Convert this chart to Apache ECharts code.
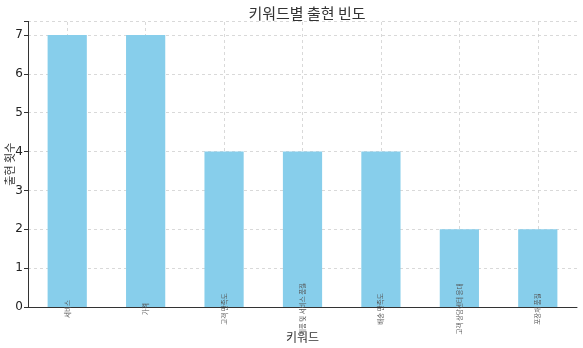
<!DOCTYPE html>
<html><head><meta charset="utf-8">
<script src="https://cdn.jsdelivr.net/npm/echarts@6/dist/echarts.min.js"></script>
<style>html,body{margin:0;padding:0;background:#fff}#c{width:583px;height:348px}</style>
</head><body><div id="c"></div>
<script>
const titleText = "키워드별 출현 빈도";
const yAxisName = "출현 횟수";
const xAxisName = "키워드";
const categories = ["서비스", "가격", "고객 만족도", "제품 및 서비스 품질", "배송 만족도", "고객 상담센터 응대", "포장재 품질"];
const counts = [7, 7, 4, 4, 4, 2, 2];
const yTicks = [0, 1, 2, 3, 4, 5, 6, 7];

const gridLineStyle = { color: '#d0d0d0', type: [3, 3], width: 0.8 };
const chart = echarts.init(document.getElementById('c'));
chart.setOption({
  animation: false,
  backgroundColor: '#fff',
  title: {
    text: titleText, left: 302, textAlign: 'center', top: 1,
    textStyle: { fontSize: 15, fontWeight: 'normal', color: '#333', fontFamily: 'Noto Sans CJK KR' }
  },
  grid: { left: 28, right: 6, top: 21.4, bottom: 41, outerBoundsMode: 'none', containLabel: false },
  xAxis: {
    type: 'category', data: categories, boundaryGap: true, z: 5,
    name: xAxisName, nameLocation: 'middle', nameGap: 24, nameMoveOverlap: false,
    nameTextStyle: { fontSize: 12, color: '#333', fontFamily: 'Noto Sans CJK KR' },
    axisLine: { lineStyle: { color: '#333', width: 1 } },
    axisTick: { alignWithLabel: true, length: 4, lineStyle: { color: '#333' } },
    axisLabel: { rotate: 90, align: 'center', verticalAlign: 'middle', margin: 2, fontSize: 6.5, color: '#555', interval: 0, hideOverlap: false, overflow: 'none', fontFamily: 'Noto Sans CJK KR' },
    splitLine: { show: false }
  },
  yAxis: {
    type: 'value', min: 0, max: 7.35, interval: 1,
    name: yAxisName, nameLocation: 'middle', nameGap: 13, nameRotate: 90, nameMoveOverlap: false,
    nameTextStyle: { fontSize: 11, color: '#333', fontFamily: 'Noto Sans CJK KR' },
    axisLine: { show: true, lineStyle: { color: '#333', width: 1 } },
    axisTick: { show: true, length: 4, lineStyle: { color: '#333' } },
    axisLabel: {
      fontSize: 12, color: '#222', margin: 5, fontFamily: 'DejaVu Sans',
      formatter: v => (yTicks.indexOf(v) >= 0 ? String(v) : '')
    },
    splitLine: { show: true, lineStyle: gridLineStyle }
  },
  series: [{
    type: 'line', data: [], z: 0, silent: true,
    markLine: {
      silent: true, symbol: 'none', label: { show: false }, z: 0,
      lineStyle: gridLineStyle,
      data: categories.map(c => ({ xAxis: c }))
    }
  }, {
    type: 'bar', data: counts, barWidth: '50%', z: 2,
    itemStyle: { color: '#87CEEB' }
  }]
});
</script></body></html>
